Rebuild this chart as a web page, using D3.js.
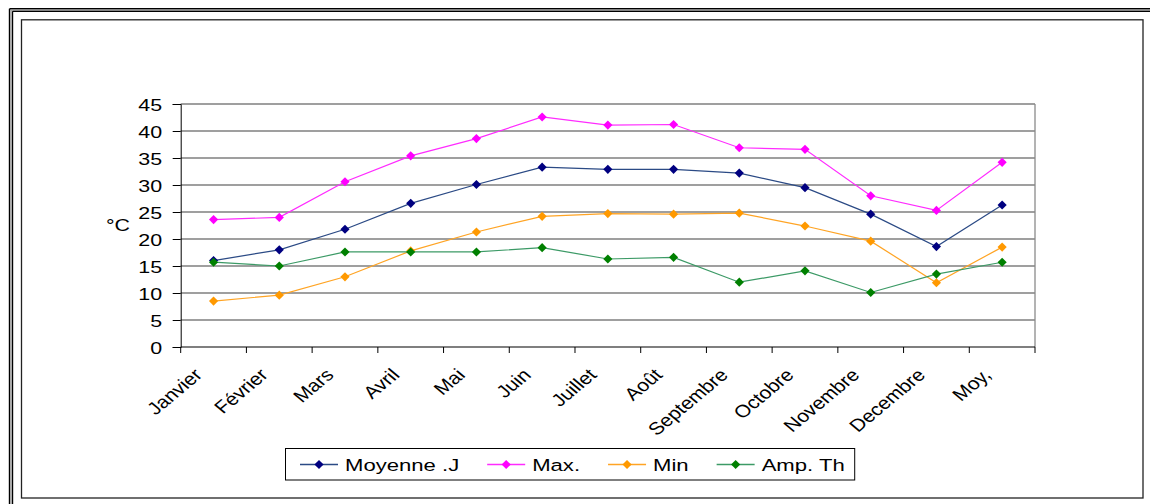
<!DOCTYPE html>
<html><head><meta charset="utf-8">
<script src="https://cdn.jsdelivr.net/npm/d3@7"></script>
<style>
html,body{margin:0;padding:0;background:#fff;}
svg{display:block;}
text{font-family:"Liberation Sans",Arial,sans-serif;fill:#000;}
</style></head>
<body>
<svg id="c" width="1150" height="504"></svg>
<script>
const categories = ["Janvier","Février","Mars","Avril","Mai","Juin","Juillet","Août","Septembre","Octobre","Novembre","Decembre","Moy,"];
const moyenne = [16.0,18.0,21.8,26.6,30.1,33.3,32.9,32.9,32.2,29.5,24.6,18.6,26.3];
const maxT    = [23.6,24.0,30.6,35.4,38.6,42.6,41.1,41.2,36.9,36.6,28.0,25.3,34.2];
const minT    = [8.5,9.6,13.0,17.8,21.3,24.2,24.7,24.6,24.8,22.4,19.6,11.9,18.5];
const ampTh   = [15.7,15.0,17.6,17.6,17.6,18.4,16.3,16.6,12.0,14.1,10.1,13.5,15.7];
const yTicks  = [0,5,10,15,20,25,30,35,40,45];
const seriesNames = ["Moyenne .J","Max.","Min","Amp. Th"];

const series = [
  {name:seriesNames[0], values:moyenne, line:"#2b4a85", mark:"#000080"},
  {name:seriesNames[1], values:maxT,    line:"#ff2bff", mark:"#ff00ff"},
  {name:seriesNames[2], values:minT,    line:"#ffa424", mark:"#ff9900"},
  {name:seriesNames[3], values:ampTh,   line:"#3c9a66", mark:"#008000"}
];

const SX = 1.3; // horizontal stretch of text as in reference
const FS = 16.5;
const svg = d3.select("#c");

// outer double frame
const frame = svg.append("g");
frame.append("line").attr("x1",9.5).attr("x2",1150).attr("y1",8.8).attr("y2",8.8).attr("stroke","#000").attr("stroke-width",1.4);
frame.append("line").attr("x1",12.5).attr("x2",1150).attr("y1",11.2).attr("y2",11.2).attr("stroke","#000").attr("stroke-width",1.4);
frame.append("line").attr("x1",11).attr("x2",1150).attr("y1",10).attr("y2",10).attr("stroke","#888").attr("stroke-width",1);
frame.append("line").attr("x1",9.5).attr("x2",9.5).attr("y1",8.8).attr("y2",504).attr("stroke","#000").attr("stroke-width",1.4);
frame.append("line").attr("x1",12.5).attr("x2",12.5).attr("y1",11.2).attr("y2",504).attr("stroke","#000").attr("stroke-width",1.4);
frame.append("line").attr("x1",11).attr("x2",11).attr("y1",10).attr("y2",504).attr("stroke","#888").attr("stroke-width",1);
// inner chart area border
svg.append("rect").attr("x",21.5).attr("y",19.8).attr("width",1121.5).attr("height",478.2)
  .attr("fill","none").attr("stroke","#222").attr("stroke-width",1.3);

const pLeft=180.7, pRight=1035, pTop=104, pBottom=347;
const x = d3.scaleBand().domain(categories).range([pLeft,pRight]);
const y = d3.scaleLinear().domain([0,45]).range([pBottom,pTop]);

// gridlines
svg.append("g").selectAll("line").data(yTicks.filter(d=>d>0)).join("line")
  .attr("x1",pLeft).attr("x2",pRight).attr("y1",d=>y(d)).attr("y2",d=>y(d))
  .attr("stroke","#7f7f7f").attr("stroke-width",1.3);
// right border of plot
svg.append("line").attr("x1",pRight).attr("x2",pRight).attr("y1",pTop).attr("y2",pBottom)
  .attr("stroke","#8a8a8a").attr("stroke-width",1.3);

// y axis
const yAxis = svg.append("g").attr("transform",`translate(${pLeft},0)`)
  .call(d3.axisLeft(y).tickValues(yTicks).tickSize(8).tickPadding(10).tickFormat(d3.format("d")));
yAxis.select(".domain").attr("stroke","#000").attr("stroke-width",1);
yAxis.selectAll(".tick line").attr("stroke","#000");
yAxis.selectAll(".tick text").each(function(){
  const t=d3.select(this); const tx=-18.5;
  t.attr("x",null).attr("dy",null).attr("text-anchor","end")
   .attr("font-size",FS).attr("font-family","Liberation Sans, Arial, sans-serif")
   .attr("transform",`translate(${tx},6) scale(${SX},1)`);
});

// x axis
const xAxis = svg.append("g").attr("transform",`translate(0,${pBottom})`);
xAxis.append("line").attr("x1",pLeft).attr("x2",pRight).attr("y1",0).attr("y2",0).attr("stroke","#000").attr("stroke-width",1.2);
const bounds = categories.map(c=>x(c)).concat([pRight]);
xAxis.selectAll("line.tk").data(bounds).join("line").attr("class","tk")
  .attr("x1",d=>d).attr("x2",d=>d).attr("y1",0).attr("y2",6).attr("stroke","#000");
xAxis.selectAll("text").data(categories).join("text")
  .attr("text-anchor","end").attr("font-size",17.5)
  .attr("transform",d=>`translate(${x(d)+x.bandwidth()/2-10},29) scale(1.2,1) rotate(-45)`)
  .text(d=>d);

// y label
svg.append("text").attr("font-size",FS).attr("transform",`translate(106,230.5) scale(${SX},1)`).text("°C");

// series
const line = d3.line().x((d,i)=>x(categories[i])+x.bandwidth()/2).y(d=>y(d));
const diamond = d3.symbol().type(d3.symbolSquare).size(42);
series.forEach(s=>{
  svg.append("path").attr("d",line(s.values)).attr("fill","none").attr("stroke",s.line).attr("stroke-width",1.2);
  svg.append("g").selectAll("path").data(s.values).join("path")
    .attr("d",diamond).attr("fill",s.mark)
    .attr("transform",(d,i)=>`translate(${x(categories[i])+x.bandwidth()/2},${y(d)}) rotate(45)`);
});

// legend
const lg = svg.append("g");
const box = lg.append("rect").attr("x",285.5).attr("y",448.5).attr("height",31.5).attr("fill","#fff")
  .attr("stroke","#000").attr("stroke-width",1);
let cx = 300;
series.forEach(s=>{
  const ly = 464.5;
  lg.append("line").attr("x1",cx).attr("x2",cx+38).attr("y1",ly).attr("y2",ly).attr("stroke",s.line).attr("stroke-width",1.3);
  lg.append("path").attr("d",diamond).attr("fill",s.mark).attr("transform",`translate(${cx+19},${ly}) rotate(45)`);
  const t = lg.append("text").attr("font-size",17).attr("transform",`translate(${cx+45},${ly+6}) scale(${SX},1)`).text(s.name);
  const w = t.node().getComputedTextLength()*SX;
  cx = cx + 45 + w + 28;
});
box.attr("width", cx - 28 + 10 - 285.5);
</script>
</body></html>
